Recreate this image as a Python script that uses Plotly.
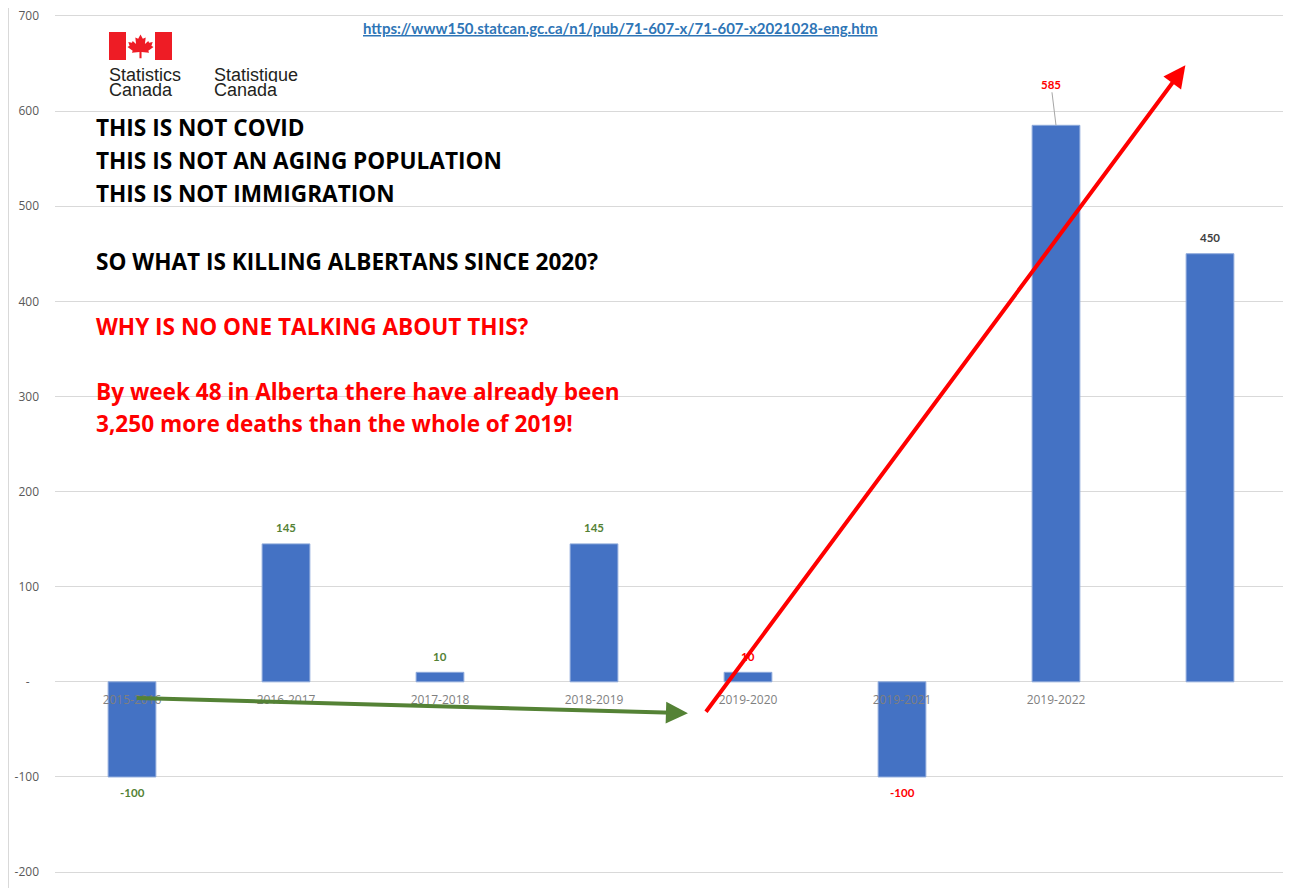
import plotly.graph_objects as go

# ---------------- data ----------------
categories = ["2015-2016", "2016-2017", "2017-2018", "2018-2019",
              "2019-2020", "2019-2021", "2019-2022", " "]
values = [-100, 145, 10, 145, 10, -100, 585, 450]
label_colors = ["#548235", "#548235", "#548235", "#548235",
                "#ff0000", "#ff0000", "#ff0000", "#404040"]
y_tick_vals = [-200, -100, 0, 100, 200, 300, 400, 500, 600, 700]
y_tick_text = ["-200", "-100", "-\u00a0\u00a0\u00a0", "100", "200", "300",
               "400", "500", "600", "700"]

url_text = "https://www150.statcan.gc.ca/n1/pub/71-607-x/71-607-x2021028-eng.htm"
black_lines = ["THIS IS NOT COVID", "THIS IS NOT AN AGING POPULATION",
               "THIS IS NOT IMMIGRATION", "SO WHAT IS KILLING ALBERTANS SINCE 2020?"]
black_line_y = [128, 160, 193, 261]
red_lines = ["WHY IS NO ONE TALKING ABOUT THIS?",
             "By week 48 in Alberta there have already been",
             "3,250 more deaths than the whole of 2019!"]
red_line_y = [326, 391, 424]

# arrows: (tail x index, tail y value, head x index, head y value)
green_arrow = (0.02, -17, 3.61, -33)
red_arrow = (3.72, -33, 6.84, 648)

# page offset (body margin) and figure geometry
OFF = 8
W, H = 1291 - OFF, 888 - OFF
PL, PR, PT, PB = 55, 1287, 14, 874          # plot area in page pixels
ML, MR, MT, MB = PL - OFF, OFF + W - PR, PT - OFF, OFF + H - PB
PW, PH = PR - PL, PB - PT


def px(x):
    return (x - PL) / PW


def py(y):
    return (PB - y) / PH


fig = go.Figure()
fig.add_trace(go.Bar(
    x=categories, y=values, width=0.31,
    marker=dict(color="#4472c4", line=dict(color="#8eaadb", width=1)),
    hoverinfo="skip"))

ann = []
# data labels
for i, (c, v, col) in enumerate(zip(categories, values, label_colors)):
    if v == max(values):
        ann.append(dict(x=i, y=v, xref="x", yref="y", text="<b>%d</b>" % v,
                        showarrow=True, arrowhead=0, arrowwidth=1,
                        arrowcolor="#a6a6a6", ax=-5, ay=-41, standoff=0,
                        font=dict(family="Lato", size=11.5, color=col)))
    else:
        ann.append(dict(x=i, y=v, xref="x", yref="y", text="<b>%d</b>" % v,
                        showarrow=False, yshift=16 if v > 0 else -16,
                        font=dict(family="Lato", size=11.5, color=col)))

# URL
ann.append(dict(x=px(620), y=py(28), xref="paper", yref="paper",
                xanchor="center", yanchor="middle",
                text="<u><b>%s</b></u>" % url_text, showarrow=False,
                font=dict(family="Lato", size=15, color="#2e75b6")))
# logo text
for xx, words in [(109, ("Statistics", "Canada")), (214, ("Statistique", "Canada"))]:
    for k, w in enumerate(words):
        ann.append(dict(x=px(xx - 2), y=py(74 + 16 * k), xref="paper", yref="paper",
                        text=w, showarrow=False, xanchor="left", yanchor="middle",
                        height=15, valign="middle",
                        font=dict(family="Liberation Sans", size=18, color="#231f20")))
# big texts
for t, yy in zip(black_lines, black_line_y):
    ann.append(dict(x=px(94), y=py(yy), xref="paper", yref="paper",
                    text="<b>%s</b>" % t, showarrow=False,
                    xanchor="left", yanchor="middle",
                    font=dict(family="Open Sans", size=22.6, color="#000000")))
for t, yy in zip(red_lines, red_line_y):
    ann.append(dict(x=px(94), y=py(yy), xref="paper", yref="paper",
                    text="<b>%s</b>" % t, showarrow=False,
                    xanchor="left", yanchor="middle",
                    font=dict(family="Open Sans", size=22.6, color="#ff0000")))
# arrows
for (tx, ty, hx, hy), col in [(green_arrow, "#548235"), (red_arrow, "#ff0000")]:
    ann.append(dict(x=hx, y=hy, ax=tx, ay=ty, xref="x", yref="y",
                    axref="x", ayref="y", text="", showarrow=True,
                    arrowhead=2, arrowsize=1.1, arrowwidth=4, arrowcolor=col))

# logo shapes (flag)
shapes = []
shapes.append(dict(type="rect", xref="paper", yref="paper",
                   x0=px(109), x1=px(126), y0=py(60), y1=py(32),
                   fillcolor="#ee1c25", line=dict(width=0)))
shapes.append(dict(type="rect", xref="paper", yref="paper",
                   x0=px(155), x1=px(172), y0=py(60), y1=py(32),
                   fillcolor="#ee1c25", line=dict(width=0)))
leaf = [(0, 0), (0.09, 0.17), (0.2, 0.12), (0.17, 0.38), (0.3, 0.26), (0.33, 0.33),
        (0.47, 0.3), (0.42, 0.45), (0.5, 0.5), (0.3, 0.65), (0.33, 0.73), (0.04, 0.7),
        (0.04, 0.95), (-0.04, 0.95), (-0.04, 0.7), (-0.33, 0.73), (-0.3, 0.65),
        (-0.5, 0.5), (-0.42, 0.45), (-0.47, 0.3), (-0.33, 0.33), (-0.3, 0.26),
        (-0.17, 0.38), (-0.2, 0.12), (-0.09, 0.17)]
cx, top, sw, sh = 140.5, 34.5, 26, 25
pts = ["%.5f,%.5f" % (px(cx + a * sw), py(top + b * sh)) for a, b in leaf]
shapes.append(dict(type="path", xref="paper", yref="paper",
                   path="M" + " L".join(pts) + " Z",
                   fillcolor="#ee1c25", line=dict(width=0)))
# left border (at the figure's left edge)
shapes.append(dict(type="line", xref="paper", yref="paper",
                   x0=px(OFF + 0.5), x1=px(OFF + 0.5), y0=py(OFF), y1=py(888),
                   line=dict(color="#d9d9d9", width=1)))

fig.update_layout(
    width=W, height=H,
    margin=dict(l=ML, r=MR, t=MT, b=MB, pad=0, autoexpand=False),
    paper_bgcolor="white", plot_bgcolor="white",
    showlegend=False,
    annotations=ann, shapes=shapes,
    xaxis=dict(type="category", categoryorder="array", categoryarray=categories,
               anchor="free", position=py(682), automargin=False,
               showgrid=False, showline=False, zeroline=False, ticks="",
               tickfont=dict(family="Open Sans", size=12, color="#7f7f7f"),
               ticklabelstandoff=9, range=[-0.5, 7.5], fixedrange=True),
    yaxis=dict(range=[-202, 702], tickvals=y_tick_vals, ticktext=y_tick_text,
               automargin=False,
               showgrid=True, gridcolor="#d9d9d9", gridwidth=1,
               zeroline=True, zerolinecolor="#d9d9d9", zerolinewidth=1,
               showline=False, ticks="", ticklabelstandoff=15,
               ticklabeloverflow="allow",
               tickfont=dict(family="Open Sans", size=12, color="#595959"),
               fixedrange=True),
)

fig.write_html("out.html")
